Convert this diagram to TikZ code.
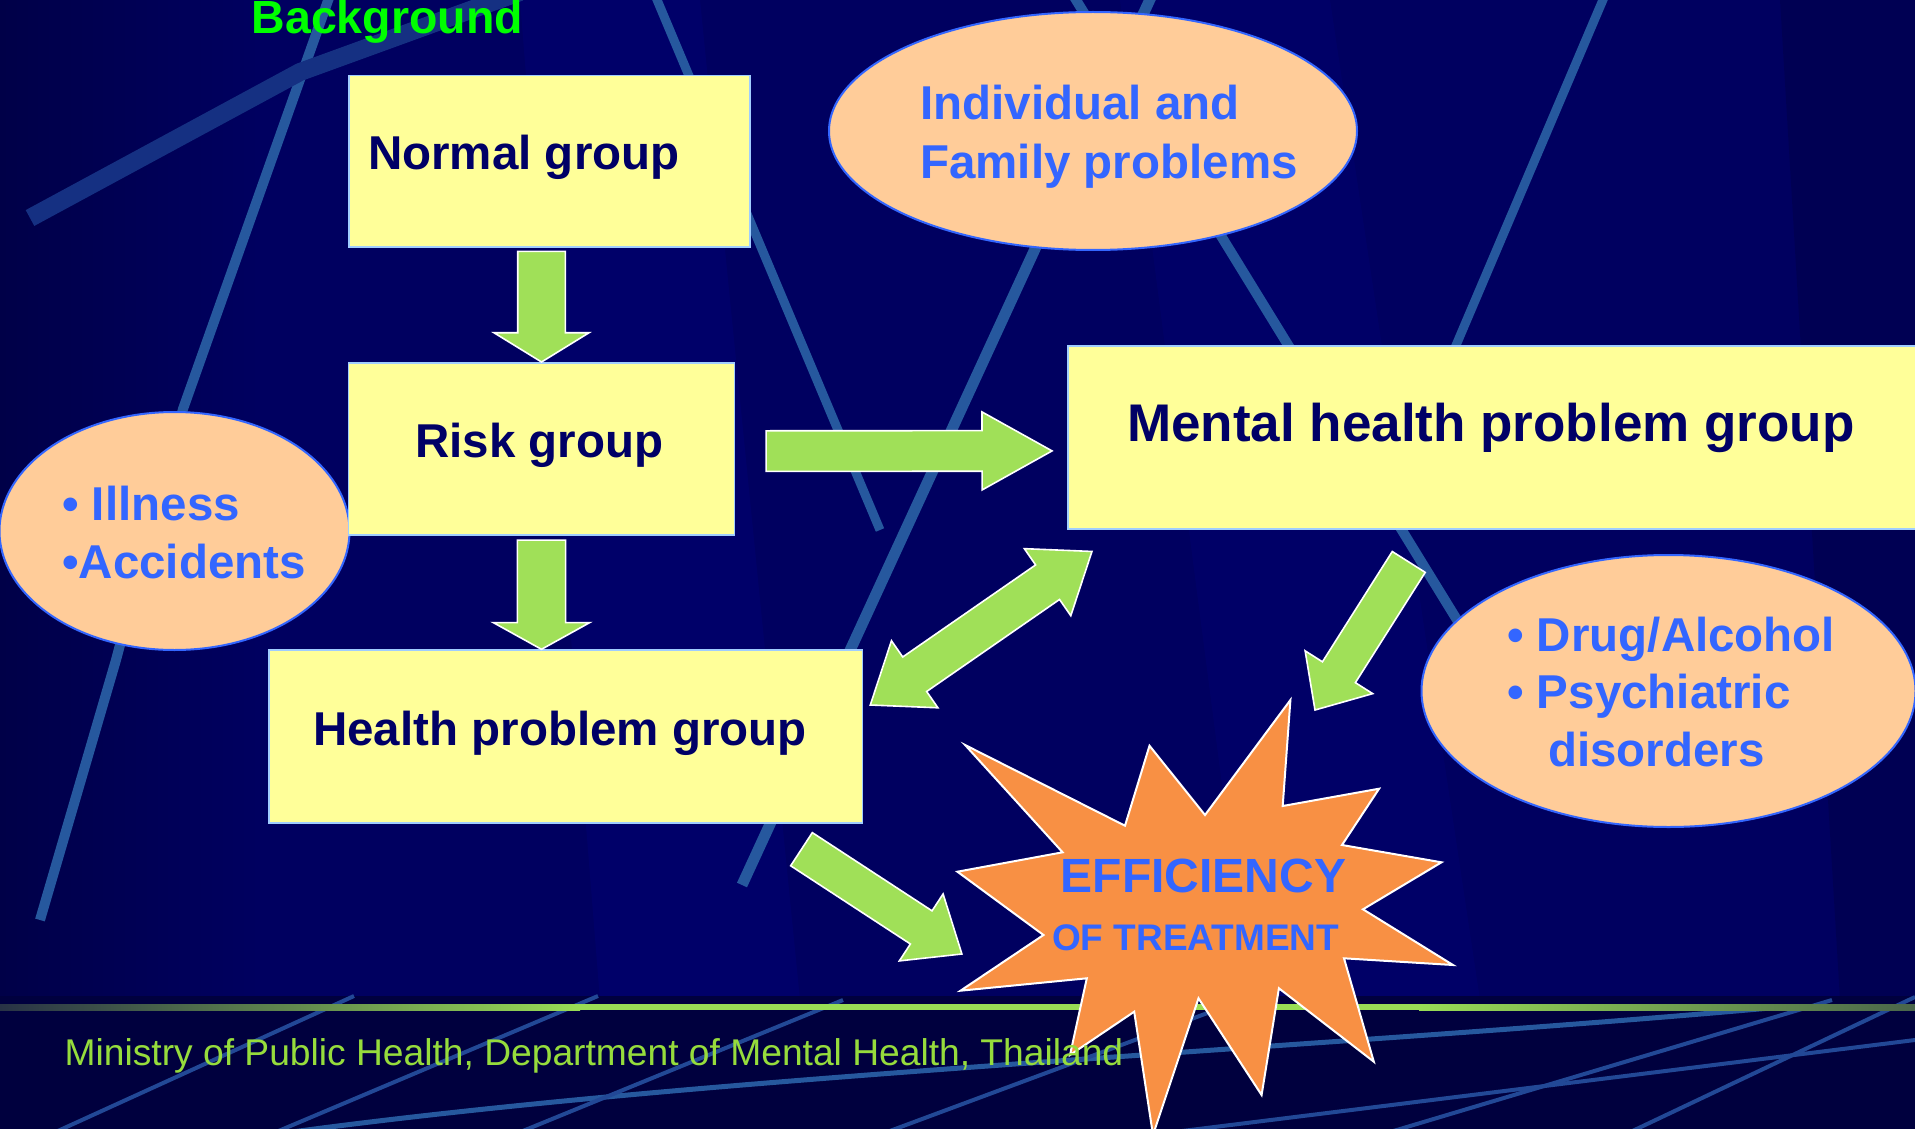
\documentclass[tikz,border=0pt]{standalone}
\usepackage{fontspec}
\setmainfont{Liberation Sans}
\usetikzlibrary{calc,shapes.geometric}
\definecolor{bgnavy}{RGB}{0,0,96}
\definecolor{bgdark}{RGB}{0,0,72}
\definecolor{bglight}{RGB}{0,0,118}
\definecolor{footnavy}{RGB}{0,0,62}
\definecolor{boxfill}{RGB}{255,255,153}
\definecolor{boxtext}{RGB}{0,0,102}
\definecolor{boxedge}{RGB}{160,205,255}
\definecolor{ovfill}{RGB}{255,204,153}
\definecolor{ovedge}{RGB}{51,102,255}
\definecolor{ovtext}{RGB}{51,102,255}
\definecolor{arrfill}{RGB}{160,224,88}
\definecolor{burst}{RGB}{248,144,68}
\definecolor{titlegreen}{RGB}{0,255,0}
\definecolor{footgreen}{RGB}{150,220,60}
\definecolor{linegreen}{RGB}{153,221,85}
\definecolor{linedark}{RGB}{40,50,70}
\definecolor{bgline}{RGB}{38,88,158}
\definecolor{footline}{RGB}{34,72,150}
\newcommand{\fs}[1]{\fontsize{#1}{#1}\selectfont}
% block arrow: tail, tip, shaft half width, head half width, head length
\newcommand{\blockarrow}[5]{%
  \coordinate (ba-h) at ($(#2)!#5!(#1)$);
  \draw[blockarr] ($(#1)!#3!90:(#2)$) -- ($(ba-h)!#3!90:(#2)$) -- ($(ba-h)!#4!90:(#2)$) -- (#2)
    -- ($(ba-h)!#4!-90:(#2)$) -- ($(ba-h)!#3!-90:(#2)$) -- ($(#1)!#3!-90:(#2)$) -- cycle;}
% double block arrow: end A, end B, shaft half width, head half width, head length
\newcommand{\dblarrow}[5]{%
  \coordinate (da-a) at ($(#1)!#5!(#2)$);
  \coordinate (da-b) at ($(#2)!#5!(#1)$);
  \draw[blockarr] (#1) -- ($(da-a)!#4!90:(#2)$) -- ($(da-a)!#3!90:(#2)$) -- ($(da-b)!#3!90:(#2)$)
    -- ($(da-b)!#4!90:(#2)$) -- (#2) -- ($(da-b)!#4!-90:(#2)$) -- ($(da-b)!#3!-90:(#2)$)
    -- ($(da-a)!#3!-90:(#2)$) -- ($(da-a)!#4!-90:(#2)$) -- cycle;}
\tikzset{
  groupbox/.style={draw=boxedge, line width=1.5pt, fill=boxfill, inner sep=0pt},
  oval/.style={ellipse, draw=ovedge, line width=2pt, fill=ovfill, inner sep=0pt},
  blockarr/.style={fill=arrfill, draw=white, line width=1.6pt, line join=miter},
  burststyle/.style={fill=burst, draw=white, line width=2pt, line join=miter},
  boxlabel/.style={anchor=base west, inner sep=0pt, text=boxtext, font=\bfseries\fs{47.5}},
  ovlabel/.style={anchor=base west, inner sep=0pt, text=ovtext, font=\bfseries\fs{47.5}},
  bgstroke/.style={draw=bgline, line width=#1, line cap=butt, line join=round},
  bgstroke/.default=10pt,
  footstroke/.style={draw=footline, line width=#1, line cap=butt},
  footstroke/.default=4pt,
}
\begin{document}
\begin{tikzpicture}[x=1pt,y=-1pt]
\useasboundingbox (0,0) rectangle (1915,1129);
\clip (0,0) rectangle (1915,1129);
% ---------- background ----------
\fill[bgnavy] (0,0) rectangle (1915,1000);
\shade[left color=bgdark, right color=bgnavy] (0,0) rectangle (260,1000);
\fill[bglight, opacity=0.45] (520,0) -- (700,0) -- (800,1000) -- (600,1000) -- cycle;
\fill[bglight, opacity=0.35] (1120,0) -- (1330,0) -- (1480,1000) -- (1250,1000) -- cycle;
\fill[bgdark, opacity=0.5] (1780,0) -- (1915,0) -- (1915,1000) -- (1840,1000) -- cycle;
% background strokes
\draw[bgstroke=10pt] (330,-5) -- (183,409) -- (116,660) -- (40,920);
\draw[bgstroke=18pt, draw=bgline!55!bgnavy] (30,218) -- (300,72) -- (520,-8);
\draw[bgstroke=9pt] (655,-5) -- (880,530);
\draw[bgstroke=11pt] (1152,-5) -- (742,885);
\draw[bgstroke=10pt] (1073,-5) -- (1462,628);
\draw[bgstroke=9pt] (1605,-5) -- (1420,430);
% ---------- footer ----------
\fill[footnavy] (0,996) rectangle (1915,1129);
\draw[footstroke=5pt, draw=bgline] (270,1135) .. controls (700,1075) and (1300,1050) .. (1770,1008);
\draw[footstroke] (49,1135) -- (354,996);
\draw[footstroke] (269,1135) -- (598,996);
\draw[footstroke] (513,1135) -- (843,1000);
\draw[footstroke] (879,1135) -- (1221,1008);
\draw[footstroke] (1380,1135) -- (1832,1000);
\draw[footstroke] (1624,1135) -- (1915,997);
\draw[footstroke] (1150,1135) -- (1915,1040);
\shade[left color=linedark, right color=linegreen] (0,1004.3) rectangle (580,1010);
\fill[linegreen] (579,1004.3) rectangle (1420,1010);
\shade[left color=linegreen, right color=linedark!70!linegreen] (1419,1004.3) rectangle (1915,1010);
% ---------- boxes and ovals ----------
\node[oval, minimum width=528pt, minimum height=238pt] (indiv) at (1093,131) {};
\node[oval, minimum width=350pt, minimum height=238pt] (illness) at (174.5,531) {};
\node[oval, minimum width=494pt, minimum height=272pt] (drug) at (1668.5,691) {};
\node[groupbox, minimum width=401pt, minimum height=171.5pt] (normal) at (549.5,161.3) {};
\node[groupbox, minimum width=385.7pt, minimum height=172.3pt] (risk) at (541.5,448.9) {};
\node[groupbox, minimum width=593.7pt, minimum height=172.7pt] (health) at (565.6,736.4) {};
\node[groupbox, minimum width=870pt, minimum height=183pt] (mental) at (1503,437.5) {};
% ---------- arrows ----------
\coordinate (a1s) at ($(risk.north |- normal.south)+(0,3.5)$);
\blockarrow{a1s}{risk.north}{23.8pt}{47.6pt}{29.3pt}
\coordinate (a2s) at ($(risk.south)+(0,4.3)$);
\coordinate (a2e) at (risk.south |- health.north);
\blockarrow{a2s}{a2e}{24.1pt}{48.2pt}{26.7pt}
\coordinate (a3s) at ($(risk.east)+(31,2.2)$);
\coordinate (a3e) at ($(risk.east -| mental.west)+(-15.2,2)$);
\blockarrow{a3s}{a3e}{20.3pt}{39pt}{70pt}
\coordinate (a4a) at ($(health.north east)+(7.1,55.7)$);
\coordinate (a4b) at ($(mental.south west)+(24.7,21.7)$);
\dblarrow{a4a}{a4b}{21pt}{40.8pt}{54pt}
\coordinate (a5s) at ($(mental.south west)+(341.5,32.2)$);
\coordinate (a5e) at (1315,710);
\blockarrow{a5s}{a5e}{19.5pt}{40pt}{44.7pt}
\coordinate (a6s) at ($(health.south east)+(-61.7,25.7)$);
\coordinate (a6e) at (961.9,954);
\blockarrow{a6s}{a6e}{19.8pt}{40pt}{48.6pt}
% ---------- starburst ----------
\draw[burststyle] (965.1,745) -- (1125,825.7) -- (1149.5,745.7) -- (1205,815) -- (1290.4,700)
  -- (1282.7,806) -- (1379.1,788.7) -- (1342,845) -- (1441.5,862.3) -- (1363,909.3)
  -- (1453,965) -- (1344,958.3) -- (1373.8,1061.7) -- (1278.9,988.3) -- (1261.6,1095)
  -- (1198.5,998.3) -- (1153,1135) -- (1134.2,1011.7) -- (1070,1055) -- (1086.8,978.3)
  -- (960.5,990.7) -- (1043.5,935) -- (957.4,871.7) -- (1062.6,852.3) -- cycle;
% ---------- texts ----------
\node[anchor=base west, inner sep=0pt, text=titlegreen, font=\bfseries\fs{46.5}] (title) at (251.5,33.5) {Background};
\node[boxlabel] (normaltxt) at (368,169.3) {Normal group};
\node[boxlabel] (risktxt) at (415,457.3) {Risk group};
\node[boxlabel] (healthtxt) at (313,745) {Health problem group};
\node[boxlabel, font=\bfseries\fs{53}] (mentaltxt) at (1127,441) {Mental health problem group};
\node[ovlabel] (indiv1) at (920,120) {Individual and};
\node[ovlabel] (indiv2) at (920,178.3) {Family problems};
\node[ovlabel] (ill1) at (62,520) {• Illness};
\node[ovlabel] (ill2) at (62,578.3) {•Accidents};
\node[ovlabel] (drug1) at (1507,651.7) {• Drug/Alcohol};
\node[ovlabel] (drug2) at (1507,708.3) {• Psychiatric};
\node[ovlabel] (drug3) at (1548,766.7) {disorders};
\node[anchor=base, inner sep=0pt, text=ovtext, font=\bfseries\fs{48}] (eff1) at (1203.6,892.3) {EFFICIENCY};
\node[anchor=base, inner sep=0pt, text=ovtext, font=\bfseries\fs{37}] (eff2) at (1195.7,950) {OF TREATMENT};
\node[anchor=base west, inner sep=0pt, text=footgreen, font=\fs{37.2}] (foot) at (64.5,1065) {Ministry of Public Health, Department of Mental Health, Thailand};
\end{tikzpicture}
\end{document}
